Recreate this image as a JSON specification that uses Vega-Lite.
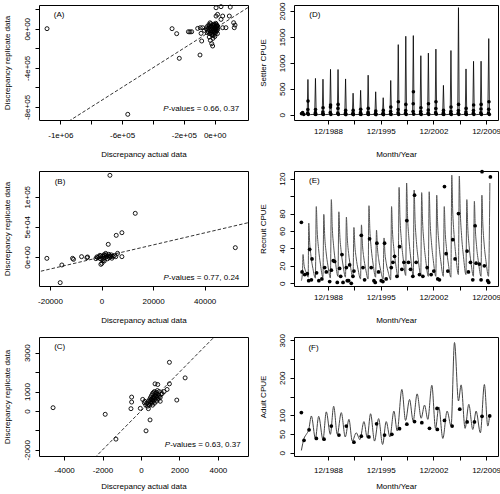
{
"$schema": "https://vega.github.io/schema/vega-lite/v6.json",
"padding": {"left": 2, "top": 1, "right": 0, "bottom": 0},
"config": {
 "view": {"stroke": "black", "strokeWidth": 1},
 "font": "Liberation Sans",
 "axis": {"domain": false, "grid": false, "ticks": true, "tickColor": "black", "tickSize": 4, "tickWidth": 1, "labelFont": "Liberation Sans", "labelFontSize": 8, "labelColor": "black", "titleFont": "Liberation Sans", "titleFontSize": 8, "titleFontWeight": "normal", "titleColor": "black", "labelOverlap": false, "labelFlush": false},
 "axisY": {"labelAngle": -90, "labelAlign": "center", "labelBaseline": "bottom", "labelPadding": 4, "titleBaseline": "middle", "titleAlign": "center", "titleAngle": -90, "labelOverlap": false},
 "axisX": {"titleBaseline": "middle", "titleY": 34, "labelOverlap": false}
},
"datasets": {
 "A": [
  {"x":-1086000,"y":0},{"x":-276000,"y":0},{"x":-246000,"y":-51000},{"x":-229000,"y":-303000},{"x":-170000,"y":-31000},{"x":-160000,"y":-33000},{"x":-149000,"y":-31000},{"x":-95000,"y":-269000},{"x":-110000,"y":3000},{"x":-93000,"y":10000},{"x":-78000,"y":10000},{"x":-67000,"y":-17000},{"x":-88000,"y":-48000},{"x":-84000,"y":-126000},{"x":-35000,"y":-85000},{"x":-28000,"y":-119000},{"x":-19000,"y":-153000},{"x":-13000,"y":-177000},{"x":-11000,"y":-99000},{"x":9000,"y":129000},{"x":41000,"y":95000},{"x":52000,"y":129000},{"x":95000,"y":129000},{"x":19000,"y":146000},{"x":9000,"y":214000},{"x":41000,"y":225000},{"x":101000,"y":221000},{"x":123000,"y":61000},{"x":132000,"y":37000},{"x":127000,"y":10000},{"x":19000,"y":27000},{"x":52000,"y":10000},{"x":73000,"y":10000},{"x":-563000,"y":-875000},
  {"x":-50000,"y":20000},{"x":-45000,"y":-10000},{"x":-40000,"y":5000},{"x":-35000,"y":30000},{"x":-30000,"y":-20000},{"x":-28000,"y":10000},{"x":-25000,"y":-40000},{"x":-22000,"y":25000},{"x":-20000,"y":-5000},{"x":-18000,"y":15000},{"x":-15000,"y":-30000},{"x":-12000,"y":35000},{"x":-10000,"y":0},{"x":-8000,"y":-15000},{"x":-5000,"y":20000},{"x":-3000,"y":-45000},{"x":0,"y":5000},{"x":0,"y":-25000},{"x":2000,"y":40000},{"x":4000,"y":-10000},{"x":6000,"y":15000},{"x":8000,"y":-35000},{"x":10000,"y":0},{"x":12000,"y":25000},{"x":14000,"y":-20000},{"x":16000,"y":10000},{"x":18000,"y":-50000},{"x":-42000,"y":-30000},{"x":-38000,"y":40000},{"x":-32000,"y":-50000},{"x":-14000,"y":-55000},{"x":-6000,"y":45000},{"x":3000,"y":-55000},{"x":11000,"y":45000},{"x":-55000,"y":0},{"x":-48000,"y":-40000},{"x":20000,"y":-5000},{"x":15000,"y":30000},{"x":-2000,"y":8000},{"x":5000,"y":-5000},{"x":-20000,"y":-60000},{"x":-25000,"y":50000},{"x":7000,"y":55000},{"x":-10000,"y":-70000},{"x":1000,"y":-80000},{"x":-30000,"y":60000}
 ],
 "B": [
  {"x":-21220,"y":-2210},{"x":-15400,"y":-13260},{"x":-16050,"y":-42540},{"x":-11260,"y":-2210},{"x":-10870,"y":-3870},{"x":-7760,"y":550},{"x":-5690,"y":-1100},{"x":-5430,"y":0},{"x":-2200,"y":-2760},{"x":-1550,"y":-1100},{"x":-650,"y":2760},{"x":-260,"y":1660},{"x":130,"y":-10500},{"x":-260,"y":-12160},{"x":1035,"y":-6630},{"x":2590,"y":21000},{"x":3240,"y":135400},{"x":5690,"y":35900},{"x":7890,"y":40300},{"x":7890,"y":550},{"x":6210,"y":6080},{"x":13070,"y":72400},{"x":51890,"y":15470},
  {"x":500,"y":1000},{"x":800,"y":-2000},{"x":1200,"y":2500},{"x":1500,"y":-500},{"x":1800,"y":3500},{"x":2000,"y":500},{"x":2300,"y":-3000},{"x":2600,"y":1500},{"x":3000,"y":-1000},{"x":3300,"y":2000},{"x":3600,"y":500},{"x":4000,"y":-2000},{"x":4500,"y":1000},{"x":5000,"y":2500},{"x":5500,"y":500},{"x":1000,"y":4000},{"x":200,"y":-4000},{"x":-500,"y":-3000},{"x":-1000,"y":500},{"x":2800,"y":4500},{"x":600,"y":-6000},{"x":1600,"y":6000},{"x":3800,"y":3500},{"x":-1800,"y":200}
 ],
 "C": [
  {"x":-4574,"y":170},{"x":-1861,"y":-170},{"x":-1304,"y":-1448},{"x":-522,"y":119},{"x":-487,"y":716},{"x":-487,"y":460},{"x":-35,"y":136},{"x":261,"y":-1022},{"x":470,"y":-460},{"x":87,"y":596},{"x":174,"y":426},{"x":1478,"y":2505},{"x":1861,"y":562},{"x":2295,"y":1704},{"x":730,"y":1397},{"x":870,"y":1363},{"x":1478,"y":1397},{"x":1356,"y":1108},{"x":1040,"y":850},{"x":950,"y":1000},{"x":383,"y":119},
  {"x":350,"y":250},{"x":400,"y":350},{"x":450,"y":300},{"x":500,"y":450},{"x":550,"y":400},{"x":600,"y":550},{"x":650,"y":500},{"x":700,"y":650},{"x":750,"y":600},{"x":800,"y":750},{"x":850,"y":700},{"x":900,"y":850},{"x":450,"y":600},{"x":500,"y":700},{"x":550,"y":800},{"x":600,"y":900},{"x":650,"y":950},{"x":700,"y":1000},{"x":750,"y":900},{"x":800,"y":950},{"x":600,"y":300},{"x":700,"y":400},{"x":800,"y":500},{"x":900,"y":600},{"x":1000,"y":700},{"x":550,"y":600},{"x":650,"y":700},{"x":750,"y":800},{"x":400,"y":500},{"x":500,"y":550},{"x":600,"y":650},{"x":700,"y":750},{"x":300,"y":400},{"x":850,"y":1050},{"x":1100,"y":900},{"x":950,"y":750},{"x":200,"y":500},{"x":250,"y":300},{"x":1200,"y":1000},{"x":1000,"y":500}
 ],
 "Dline": [
  {"t":1985.38,"v":5},{"t":1985.5,"v":60},{"t":1985.62,"v":8},
  {"t":1986.15,"v":8},{"t":1986.25,"v":680},{"t":1986.35,"v":30},{"t":1986.6,"v":2},
  {"t":1987.15,"v":8},{"t":1987.25,"v":700},{"t":1987.35,"v":30},{"t":1987.6,"v":2},
  {"t":1988.15,"v":8},{"t":1988.25,"v":685},{"t":1988.35,"v":30},{"t":1988.6,"v":2},
  {"t":1989.15,"v":8},{"t":1989.25,"v":875},{"t":1989.35,"v":30},{"t":1989.6,"v":2},
  {"t":1990.15,"v":8},{"t":1990.25,"v":872},{"t":1990.35,"v":30},{"t":1990.6,"v":2},
  {"t":1991.15,"v":8},{"t":1991.25,"v":690},{"t":1991.35,"v":30},{"t":1991.6,"v":2},
  {"t":1992.15,"v":8},{"t":1992.25,"v":415},{"t":1992.35,"v":30},{"t":1992.6,"v":2},
  {"t":1993.15,"v":8},{"t":1993.25,"v":470},{"t":1993.35,"v":30},{"t":1993.6,"v":2},
  {"t":1994.15,"v":8},{"t":1994.25,"v":762},{"t":1994.35,"v":30},{"t":1994.6,"v":2},
  {"t":1995.15,"v":8},{"t":1995.25,"v":442},{"t":1995.35,"v":30},{"t":1995.6,"v":2},
  {"t":1996.15,"v":8},{"t":1996.25,"v":328},{"t":1996.35,"v":30},{"t":1996.6,"v":2},
  {"t":1997.15,"v":8},{"t":1997.25,"v":660},{"t":1997.35,"v":30},{"t":1997.6,"v":2},
  {"t":1998.15,"v":8},{"t":1998.25,"v":1352},{"t":1998.35,"v":30},{"t":1998.6,"v":2},
  {"t":1999.15,"v":8},{"t":1999.25,"v":1513},{"t":1999.35,"v":30},{"t":1999.6,"v":2},
  {"t":2000.15,"v":8},{"t":2000.25,"v":1526},{"t":2000.35,"v":30},{"t":2000.6,"v":2},
  {"t":2001.15,"v":8},{"t":2001.25,"v":1138},{"t":2001.35,"v":30},{"t":2001.6,"v":2},
  {"t":2002.15,"v":8},{"t":2002.25,"v":1188},{"t":2002.35,"v":30},{"t":2002.6,"v":2},
  {"t":2003.15,"v":8},{"t":2003.25,"v":1265},{"t":2003.35,"v":30},{"t":2003.6,"v":2},
  {"t":2004.15,"v":8},{"t":2004.25,"v":566},{"t":2004.35,"v":30},{"t":2004.6,"v":2},
  {"t":2005.15,"v":8},{"t":2005.25,"v":1238},{"t":2005.35,"v":30},{"t":2005.6,"v":2},
  {"t":2006.15,"v":8},{"t":2006.25,"v":2065},{"t":2006.35,"v":30},{"t":2006.6,"v":2},
  {"t":2007.15,"v":8},{"t":2007.25,"v":883},{"t":2007.35,"v":30},{"t":2007.6,"v":2},
  {"t":2008.15,"v":8},{"t":2008.25,"v":1030},{"t":2008.35,"v":30},{"t":2008.6,"v":2},
  {"t":2009.15,"v":8},{"t":2009.25,"v":1032},{"t":2009.35,"v":30},{"t":2009.6,"v":2},
  {"t":2010.15,"v":8},{"t":2010.27,"v":1468},{"t":2010.37,"v":30},{"t":2010.45,"v":5}
 ],
 "Ddots": [
  {"t":1985.4,"v":20},{"t":1985.55,"v":40},{"t":1985.7,"v":5},
  {"t":1986.22,"v":30},{"t":1986.24,"v":100},{"t":1986.26,"v":263},{"t":1986.3,"v":5},
  {"t":1987.22,"v":10},{"t":1987.24,"v":40},{"t":1987.26,"v":100},{"t":1987.3,"v":3},
  {"t":1988.22,"v":15},{"t":1988.24,"v":50},{"t":1988.26,"v":135},{"t":1988.3,"v":3},
  {"t":1989.22,"v":40},{"t":1989.24,"v":147},{"t":1989.26,"v":186},{"t":1989.3,"v":5},
  {"t":1990.22,"v":30},{"t":1990.24,"v":122},{"t":1990.26,"v":199},{"t":1990.3,"v":5},
  {"t":1991.22,"v":10},{"t":1991.24,"v":35},{"t":1991.26,"v":83},{"t":1991.3,"v":2},
  {"t":1992.22,"v":8},{"t":1992.24,"v":30},{"t":1992.26,"v":83},{"t":1992.3,"v":2},
  {"t":1993.22,"v":10},{"t":1993.24,"v":40},{"t":1993.26,"v":103},{"t":1993.3,"v":3},
  {"t":1994.22,"v":12},{"t":1994.24,"v":45},{"t":1994.26,"v":122},{"t":1994.3,"v":3},
  {"t":1995.22,"v":8},{"t":1995.24,"v":25},{"t":1995.26,"v":70},{"t":1995.3,"v":2},
  {"t":1996.22,"v":10},{"t":1996.24,"v":30},{"t":1996.26,"v":83},{"t":1996.3,"v":2},
  {"t":1997.22,"v":15},{"t":1997.24,"v":60},{"t":1997.26,"v":147},{"t":1997.3,"v":4},
  {"t":1998.22,"v":35},{"t":1998.24,"v":100},{"t":1998.26,"v":250},{"t":1998.3,"v":5},
  {"t":1999.22,"v":30},{"t":1999.24,"v":80},{"t":1999.26,"v":199},{"t":1999.3,"v":5},
  {"t":2000.22,"v":60},{"t":2000.24,"v":212},{"t":2000.26,"v":442},{"t":2000.3,"v":10},
  {"t":2001.22,"v":20},{"t":2001.24,"v":60},{"t":2001.26,"v":135},{"t":2001.3,"v":5},
  {"t":2002.22,"v":30},{"t":2002.24,"v":90},{"t":2002.26,"v":212},{"t":2002.3,"v":5},
  {"t":2003.22,"v":40},{"t":2003.24,"v":120},{"t":2003.26,"v":250},{"t":2003.3,"v":8},
  {"t":2004.22,"v":10},{"t":2004.24,"v":35},{"t":2004.26,"v":83},{"t":2004.3,"v":3},
  {"t":2005.22,"v":20},{"t":2005.24,"v":60},{"t":2005.26,"v":147},{"t":2005.3,"v":5},
  {"t":2006.22,"v":30},{"t":2006.24,"v":80},{"t":2006.26,"v":199},{"t":2006.3,"v":5},
  {"t":2007.22,"v":15},{"t":2007.24,"v":50},{"t":2007.26,"v":122},{"t":2007.3,"v":4},
  {"t":2008.22,"v":25},{"t":2008.24,"v":80},{"t":2008.26,"v":186},{"t":2008.3,"v":5},
  {"t":2009.22,"v":35},{"t":2009.24,"v":110},{"t":2009.26,"v":199},{"t":2009.3,"v":5},
  {"t":2010.24,"v":30},{"t":2010.27,"v":103},{"t":2010.3,"v":250},{"t":2010.35,"v":5}
 ],
 "Eline": [
  {"t":1985.38,"v":3},{"t":1985.52,"v":12},{"t":1985.6,"v":33},{"t":1985.72,"v":22},{"t":1985.9,"v":15},{"t":1986.1,"v":11},{"t":1986.28,"v":7},
  {"t":1986.36,"v":69},{"t":1986.48,"v":47},{"t":1986.66,"v":31},{"t":1986.91,"v":17},{"t":1987.24,"v":6},
  {"t":1987.36,"v":88},{"t":1987.48,"v":60},{"t":1987.66,"v":40},{"t":1987.91,"v":22},{"t":1988.24,"v":7},
  {"t":1988.36,"v":79},{"t":1988.48,"v":54},{"t":1988.66,"v":36},{"t":1988.91,"v":20},{"t":1989.24,"v":6},
  {"t":1989.36,"v":96},{"t":1989.48,"v":65},{"t":1989.66,"v":43},{"t":1989.91,"v":24},{"t":1990.24,"v":8},
  {"t":1990.36,"v":82},{"t":1990.48,"v":56},{"t":1990.66,"v":37},{"t":1990.91,"v":21},{"t":1991.24,"v":7},
  {"t":1991.36,"v":76},{"t":1991.48,"v":52},{"t":1991.66,"v":34},{"t":1991.91,"v":19},{"t":1992.24,"v":6},
  {"t":1992.36,"v":64},{"t":1992.48,"v":44},{"t":1992.66,"v":29},{"t":1992.91,"v":16},{"t":1993.24,"v":5},
  {"t":1993.36,"v":67},{"t":1993.48,"v":46},{"t":1993.66,"v":30},{"t":1993.91,"v":17},{"t":1994.24,"v":5},
  {"t":1994.36,"v":89},{"t":1994.48,"v":61},{"t":1994.66,"v":40},{"t":1994.91,"v":22},{"t":1995.24,"v":7},
  {"t":1995.36,"v":61},{"t":1995.48,"v":41},{"t":1995.66,"v":27},{"t":1995.91,"v":15},{"t":1996.24,"v":5},
  {"t":1996.36,"v":52},{"t":1996.48,"v":35},{"t":1996.66,"v":23},{"t":1996.91,"v":13},{"t":1997.24,"v":4},
  {"t":1997.36,"v":88},{"t":1997.48,"v":60},{"t":1997.66,"v":40},{"t":1997.91,"v":22},{"t":1998.24,"v":7},
  {"t":1998.36,"v":110},{"t":1998.48,"v":75},{"t":1998.66,"v":50},{"t":1998.91,"v":28},{"t":1999.24,"v":9},
  {"t":1999.36,"v":115},{"t":1999.48,"v":78},{"t":1999.66,"v":52},{"t":1999.91,"v":29},{"t":2000.24,"v":9},
  {"t":2000.36,"v":107},{"t":2000.48,"v":73},{"t":2000.66,"v":48},{"t":2000.91,"v":27},{"t":2001.24,"v":9},
  {"t":2001.36,"v":104},{"t":2001.48,"v":71},{"t":2001.66,"v":47},{"t":2001.91,"v":26},{"t":2002.24,"v":8},
  {"t":2002.36,"v":105},{"t":2002.48,"v":71},{"t":2002.66,"v":47},{"t":2002.91,"v":26},{"t":2003.24,"v":8},
  {"t":2003.36,"v":101},{"t":2003.48,"v":69},{"t":2003.66,"v":45},{"t":2003.91,"v":25},{"t":2004.24,"v":8},
  {"t":2004.36,"v":88},{"t":2004.48,"v":60},{"t":2004.66,"v":40},{"t":2004.91,"v":22},{"t":2005.24,"v":7},
  {"t":2005.36,"v":124},{"t":2005.48,"v":84},{"t":2005.66,"v":56},{"t":2005.91,"v":31},{"t":2006.24,"v":10},
  {"t":2006.36,"v":123},{"t":2006.48,"v":84},{"t":2006.66,"v":55},{"t":2006.91,"v":31},{"t":2007.24,"v":10},
  {"t":2007.36,"v":96},{"t":2007.48,"v":65},{"t":2007.66,"v":43},{"t":2007.91,"v":24},{"t":2008.24,"v":8},
  {"t":2008.36,"v":94},{"t":2008.48,"v":64},{"t":2008.66,"v":42},{"t":2008.91,"v":24},{"t":2009.24,"v":8},
  {"t":2009.36,"v":101},{"t":2009.48,"v":69},{"t":2009.66,"v":45},{"t":2009.91,"v":25},{"t":2010.24,"v":8},
  {"t":2010.42,"v":115}
 ],
 "Edots": [
  {"t":1985.38,"v":70},{"t":1985.47,"v":13},{"t":1985.82,"v":10},{"t":1986.17,"v":11},{"t":1986.35,"v":3},{"t":1986.48,"v":39},{"t":1986.71,"v":4},{"t":1986.79,"v":28},{"t":1987.4,"v":12},{"t":1987.7,"v":3},{"t":1988.1,"v":5},{"t":1988.47,"v":18},{"t":1988.69,"v":13},{"t":1989.14,"v":2},{"t":1989.36,"v":15},{"t":1989.62,"v":26},{"t":1989.8,"v":25},{"t":1990.15,"v":1},{"t":1990.46,"v":17},{"t":1990.6,"v":8},{"t":1990.77,"v":33},{"t":1990.91,"v":1},{"t":1991.35,"v":18},{"t":1991.48,"v":3},{"t":1991.66,"v":3},{"t":1991.79,"v":21},{"t":1992.01,"v":0},{"t":1992.23,"v":8},{"t":1992.36,"v":14},{"t":1993.34,"v":55},{"t":1993.56,"v":18},{"t":1993.78,"v":4},{"t":1994.44,"v":51},{"t":1994.66,"v":18},{"t":1995.02,"v":3},{"t":1995.19,"v":1},{"t":1995.41,"v":46},{"t":1995.63,"v":13},{"t":1995.99,"v":3},{"t":1996.21,"v":2},{"t":1996.43,"v":46},{"t":1996.65,"v":5},{"t":1997.32,"v":18},{"t":1997.54,"v":24},{"t":1997.76,"v":31},{"t":1998.07,"v":8},{"t":1998.42,"v":42},{"t":1998.73,"v":16},{"t":1999.0,"v":24},{"t":1999.39,"v":72},{"t":1999.61,"v":24},{"t":1999.88,"v":16},{"t":2000.19,"v":8},{"t":2000.41,"v":101},{"t":2000.63,"v":24},{"t":2001.07,"v":10},{"t":2001.52,"v":8},{"t":2002.09,"v":18},{"t":2002.62,"v":10},{"t":2002.97,"v":14},{"t":2003.5,"v":5},{"t":2003.72,"v":4},{"t":2004.39,"v":111},{"t":2004.61,"v":34},{"t":2004.83,"v":14},{"t":2005.49,"v":50},{"t":2005.8,"v":28},{"t":2006.25,"v":80},{"t":2007.39,"v":37},{"t":2007.57,"v":13},{"t":2007.84,"v":24},{"t":2008.15,"v":4},{"t":2008.46,"v":66},{"t":2008.59,"v":23},{"t":2009.03,"v":22},{"t":2009.25,"v":4},{"t":2009.38,"v":128},{"t":2009.69,"v":20},{"t":2010.13,"v":3},{"t":2010.27,"v":1},{"t":2010.49,"v":122}
 ],
 "Fline": [
  {"t":1985.38,"v":6},{"t":1985.73,"v":38},{"t":1986.04,"v":49},{"t":1986.35,"v":61},{"t":1986.71,"v":98},{"t":1987.24,"v":38},{"t":1987.68,"v":97},{"t":1988.25,"v":35},{"t":1988.69,"v":109},{"t":1989.23,"v":49},{"t":1989.67,"v":124},{"t":1990.15,"v":49},{"t":1990.68,"v":107},{"t":1991.21,"v":42},{"t":1991.7,"v":89},{"t":1992.14,"v":31},{"t":1992.67,"v":53},{"t":1993.16,"v":35},{"t":1993.69,"v":83},{"t":1994.13,"v":40},{"t":1994.57,"v":104},{"t":1995.1,"v":31},{"t":1995.64,"v":91},{"t":1996.17,"v":22},{"t":1996.65,"v":83},{"t":1997.14,"v":42},{"t":1997.67,"v":111},{"t":1998.11,"v":58},{"t":1998.73,"v":169},{"t":1999.22,"v":86},{"t":1999.75,"v":142},{"t":2000.23,"v":85},{"t":2000.76,"v":157},{"t":2001.29,"v":92},{"t":2001.74,"v":127},{"t":2002.18,"v":89},{"t":2002.71,"v":180},{"t":2003.2,"v":65},{"t":2003.64,"v":122},{"t":2004.17,"v":38},{"t":2004.74,"v":111},{"t":2005.27,"v":71},{"t":2005.72,"v":294},{"t":2006.25,"v":138},{"t":2006.6,"v":181},{"t":2007.13,"v":65},{"t":2007.62,"v":129},{"t":2008.15,"v":62},{"t":2008.59,"v":111},{"t":2009.16,"v":53},{"t":2009.69,"v":182},{"t":2010.14,"v":71},{"t":2010.4,"v":102}
 ],
 "Fdots": [
  {"t":1985.38,"v":107},{"t":1985.73,"v":33},{"t":1986.4,"v":61},{"t":1987.37,"v":38},{"t":1988.39,"v":36},{"t":1989.36,"v":71},{"t":1990.37,"v":47},{"t":1991.35,"v":71},{"t":1992.36,"v":28},{"t":1993.34,"v":44},{"t":1994.35,"v":42},{"t":1995.37,"v":77},{"t":1996.43,"v":47},{"t":1997.4,"v":49},{"t":1998.42,"v":64},{"t":1999.39,"v":76},{"t":2000.41,"v":83},{"t":2001.38,"v":80},{"t":2002.4,"v":65},{"t":2003.4,"v":118},{"t":2003.44,"v":62},{"t":2004.39,"v":86},{"t":2005.41,"v":71},{"t":2006.42,"v":116},{"t":2007.4,"v":82},{"t":2008.37,"v":82},{"t":2009.38,"v":97},{"t":2010.4,"v":98}
 ]
},
"columns": 2,
"spacing": {"row": 51, "column": 46},
"bounds": "flush",
"concat": [
  {"width": 209, "height": 115,
   "resolve": {"axis": {"x": "independent", "y": "independent"}},
   "layer": [
    {"data": {"name": "A"},
     "mark": {"type": "point", "shape": "circle", "filled": false, "color": "black", "size": 16, "strokeWidth": 0.9, "opacity": 1},
     "encoding": {
      "x": {"field": "x", "type": "quantitative", "scale": {"domain": [-1138000, 216000], "nice": false, "zero": false},
            "axis": {"title": "Discrepancy actual data", "values": [-1000000, -800000, -600000, -400000, -200000, 0], "labelPadding": 7, "labelOverlap": false,
                     "labelExpr": "datum.value == -1000000 ? '-1e+06' : datum.value == -600000 ? '-6e+05' : datum.value == -200000 ? '-2e+05' : datum.value == 0 ? '0e+00' : ''"}},
      "y": {"field": "y", "type": "quantitative", "scale": {"domain": [-933000, 242000], "nice": false, "zero": false},
            "axis": {"title": "Discrepancy replicate data", "titleX": -31.7, "values": [200000, 0, -200000, -400000, -600000, -800000], "labelOverlap": false,
                     "labelExpr": "datum.value == 0 ? '0e+00' : datum.value == -400000 ? '-4e+05' : datum.value == -800000 ? '-8e+05' : ''"}}
     }},
    {"data": {"values": [{}]},
     "mark": {"type": "rule", "strokeDash": [3.5, 2], "strokeWidth": 0.8, "color": "black", "clip": true},
     "encoding": {
      "x": {"datum": -2000000, "type": "quantitative", "axis": null},
      "y": {"datum": -2000000, "type": "quantitative", "axis": null},
      "x2": {"datum": 2000000}, "y2": {"datum": 2000000}
     }},
    {"data": {"values": [{}]},
     "mark": {"type": "text", "text": "(A)", "font": "Liberation Sans", "fontSize": 8, "fill": "black", "align": "center", "baseline": "middle"},
     "encoding": {"x": {"datum": -1008000, "type": "quantitative", "axis": null}, "y": {"datum": 137000, "type": "quantitative", "axis": null}}},
    {"data": {"values": [{}]},
     "mark": {"type": "text", "text": "P", "font": "Liberation Sans", "fontSize": 8, "fontStyle": "italic", "fill": "black", "align": "right", "baseline": "middle", "dx": -70.5},
     "encoding": {"x": {"datum": 159000, "type": "quantitative", "axis": null}, "y": {"datum": -824000, "type": "quantitative", "axis": null}}},
    {"data": {"values": [{}]},
     "mark": {"type": "text", "text": "-values = 0.66, 0.37", "font": "Liberation Sans", "fontSize": 8, "fill": "black", "align": "right", "baseline": "middle"},
     "encoding": {"x": {"datum": 159000, "type": "quantitative", "axis": null}, "y": {"datum": -824000, "type": "quantitative", "axis": null}}}
   ]},
  {"width": 204, "height": 115,
   "resolve": {"axis": {"x": "independent", "y": "independent"}},
   "layer": [
    {"data": {"name": "Dline"},
     "mark": {"type": "line", "color": "black", "strokeWidth": 0.8},
     "encoding": {
      "x": {"field": "t", "type": "quantitative", "scale": {"domain": [1984.4, 2011.5], "nice": false, "zero": false},
            "axis": {"title": "Month/Year", "values": [1988.92, 1992.42, 1995.92, 1999.42, 2002.92, 2006.42, 2009.92], "labelPadding": 3, "labelOverlap": false,
                     "labelExpr": "abs(datum.value - floor(datum.value) - 0.92) < 0.01 ? '12/' + floor(datum.value) : ''"}},
      "y": {"field": "v", "type": "quantitative", "scale": {"domain": [-102, 2116], "nice": false, "zero": false},
            "axis": {"title": "Settler CPUE", "titleX": -31, "values": [0, 500, 1000, 1500, 2000], "labelOverlap": false, "labelExpr": "datum.value + ''"}}
     }},
    {"data": {"name": "Ddots"},
     "mark": {"type": "circle", "color": "black", "size": 13, "opacity": 1},
     "encoding": {"x": {"field": "t", "type": "quantitative", "axis": null}, "y": {"field": "v", "type": "quantitative", "axis": null}}},
    {"data": {"values": [{}]},
     "mark": {"type": "text", "text": "(D)", "font": "Liberation Sans", "fontSize": 8, "fill": "black", "align": "center", "baseline": "middle"},
     "encoding": {"x": {"datum": 1987.16, "type": "quantitative", "axis": null}, "y": {"datum": 1917, "type": "quantitative", "axis": null}}}
   ]},
  {"width": 209, "height": 115,
   "resolve": {"axis": {"x": "independent", "y": "independent"}},
   "layer": [
    {"data": {"name": "B"},
     "mark": {"type": "point", "shape": "circle", "filled": false, "color": "black", "size": 16, "strokeWidth": 0.9, "opacity": 1},
     "encoding": {
      "x": {"field": "x", "type": "quantitative", "scale": {"domain": [-24270, 56810], "nice": false, "zero": false},
            "axis": {"title": "Discrepancy actual data", "values": [-20000, 0, 20000, 40000], "labelPadding": 7, "labelOverlap": false, "labelExpr": "datum.value + ''"}},
      "y": {"field": "y", "type": "quantitative", "scale": {"domain": [-48090, 142600], "nice": false, "zero": false},
            "axis": {"title": "Discrepancy replicate data", "titleX": -31.7, "values": [0, 50000, 100000], "labelOverlap": false,
                     "labelExpr": "datum.value == 0 ? '0e+00' : datum.value == 50000 ? '5e+04' : '1e+05'"}}
     }},
    {"data": {"values": [{}]},
     "mark": {"type": "rule", "strokeDash": [3.5, 2], "strokeWidth": 0.8, "color": "black", "clip": true},
     "encoding": {
      "x": {"datum": -1000000, "type": "quantitative", "axis": null},
      "y": {"datum": -1000000, "type": "quantitative", "axis": null},
      "x2": {"datum": 1000000}, "y2": {"datum": 1000000}
     }},
    {"data": {"values": [{}]},
     "mark": {"type": "text", "text": "(B)", "font": "Liberation Sans", "fontSize": 8, "fill": "black", "align": "center", "baseline": "middle"},
     "encoding": {"x": {"datum": -16110, "type": "quantitative", "axis": null}, "y": {"datum": 124900, "type": "quantitative", "axis": null}}},
    {"data": {"values": [{}]},
     "mark": {"type": "text", "text": "P", "font": "Liberation Sans", "fontSize": 8, "fontStyle": "italic", "fill": "black", "align": "right", "baseline": "middle", "dx": -70.5},
     "encoding": {"x": {"datum": 53430, "type": "quantitative", "axis": null}, "y": {"datum": -35300, "type": "quantitative", "axis": null}}},
    {"data": {"values": [{}]},
     "mark": {"type": "text", "text": "-values = 0.77, 0.24", "font": "Liberation Sans", "fontSize": 8, "fill": "black", "align": "right", "baseline": "middle"},
     "encoding": {"x": {"datum": 53430, "type": "quantitative", "axis": null}, "y": {"datum": -35300, "type": "quantitative", "axis": null}}}
   ]},
  {"width": 204, "height": 115,
   "resolve": {"axis": {"x": "independent", "y": "independent"}},
   "layer": [
    {"data": {"name": "Eline"},
     "mark": {"type": "line", "color": "#555555", "strokeWidth": 1, "interpolate": "monotone"},
     "encoding": {
      "x": {"field": "t", "type": "quantitative", "scale": {"domain": [1984.4, 2011.5], "nice": false, "zero": false},
            "axis": {"title": "Month/Year", "values": [1988.92, 1992.42, 1995.92, 1999.42, 2002.92, 2006.42, 2009.92], "labelPadding": 3, "labelOverlap": false,
                     "labelExpr": "abs(datum.value - floor(datum.value) - 0.92) < 0.01 ? '12/' + floor(datum.value) : ''"}},
      "y": {"field": "v", "type": "quantitative", "scale": {"domain": [-3.1, 128.8], "nice": false, "zero": false},
            "axis": {"title": "Recruit CPUE", "titleX": -31, "values": [0, 20, 40, 60, 80, 100, 120], "labelOverlap": false, "labelExpr": "datum.value == 100 ? '' : datum.value + ''"}}
     }},
    {"data": {"name": "Edots"},
     "mark": {"type": "circle", "color": "black", "size": 14, "opacity": 1},
     "encoding": {"x": {"field": "t", "type": "quantitative", "axis": null}, "y": {"field": "v", "type": "quantitative", "axis": null}}},
    {"data": {"values": [{}]},
     "mark": {"type": "text", "text": "(E)", "font": "Liberation Sans", "fontSize": 8, "fill": "black", "align": "center", "baseline": "middle"},
     "encoding": {"x": {"datum": 1987.1, "type": "quantitative", "axis": null}, "y": {"datum": 117.4, "type": "quantitative", "axis": null}}}
   ]},
  {"width": 209, "height": 119,
   "resolve": {"axis": {"x": "independent", "y": "independent"}},
   "layer": [
    {"data": {"name": "C"},
     "mark": {"type": "point", "shape": "circle", "filled": false, "color": "black", "size": 16, "strokeWidth": 0.9, "opacity": 1},
     "encoding": {
      "x": {"field": "x", "type": "quantitative", "scale": {"domain": [-5305, 5565], "nice": false, "zero": false},
            "axis": {"title": "Discrepancy actual data", "values": [-4000, -2000, 0, 2000, 4000], "labelPadding": 6, "titleY": 30, "labelOverlap": false, "labelExpr": "datum.value + ''"}},
      "y": {"field": "y", "type": "quantitative", "scale": {"domain": [-2316, 3808], "nice": false, "zero": false},
            "axis": {"title": "Discrepancy replicate data", "titleX": -31.7, "values": [-2000, -1000, 0, 1000, 2000, 3000], "labelOverlap": false,
                     "labelExpr": "datum.value == 2000 || datum.value == -1000 ? '' : datum.value + ''"}}
     }},
    {"data": {"values": [{}]},
     "mark": {"type": "rule", "strokeDash": [3.5, 2], "strokeWidth": 0.8, "color": "black", "clip": true},
     "encoding": {
      "x": {"datum": -100000, "type": "quantitative", "axis": null},
      "y": {"datum": -100000, "type": "quantitative", "axis": null},
      "x2": {"datum": 100000}, "y2": {"datum": 100000}
     }},
    {"data": {"values": [{}]},
     "mark": {"type": "text", "text": "(C)", "font": "Liberation Sans", "fontSize": 8, "fill": "black", "align": "center", "baseline": "middle"},
     "encoding": {"x": {"datum": -4228, "type": "quantitative", "axis": null}, "y": {"datum": 3294, "type": "quantitative", "axis": null}}},
    {"data": {"values": [{}]},
     "mark": {"type": "text", "text": "P", "font": "Liberation Sans", "fontSize": 8, "fontStyle": "italic", "fill": "black", "align": "right", "baseline": "middle", "dx": -70.5},
     "encoding": {"x": {"datum": 5183, "type": "quantitative", "axis": null}, "y": {"datum": -1750, "type": "quantitative", "axis": null}}},
    {"data": {"values": [{}]},
     "mark": {"type": "text", "text": "-values = 0.63, 0.37", "font": "Liberation Sans", "fontSize": 8, "fill": "black", "align": "right", "baseline": "middle"},
     "encoding": {"x": {"datum": 5183, "type": "quantitative", "axis": null}, "y": {"datum": -1750, "type": "quantitative", "axis": null}}}
   ]},
  {"width": 204, "height": 119,
   "resolve": {"axis": {"x": "independent", "y": "independent"}},
   "layer": [
    {"data": {"name": "Fline"},
     "mark": {"type": "line", "color": "#444444", "strokeWidth": 1, "interpolate": "monotone"},
     "encoding": {
      "x": {"field": "t", "type": "quantitative", "scale": {"domain": [1984.4, 2011.5], "nice": false, "zero": false},
            "axis": {"title": "Month/Year", "values": [1988.92, 1992.42, 1995.92, 1999.42, 2002.92, 2006.42, 2009.92], "labelPadding": 6, "titleY": 30, "labelOverlap": false,
                     "labelExpr": "abs(datum.value - floor(datum.value) - 0.92) < 0.01 ? '12/' + floor(datum.value) : ''"}},
      "y": {"field": "v", "type": "quantitative", "scale": {"domain": [-8.8, 308.8], "nice": false, "zero": false},
            "axis": {"title": "Adult CPUE", "titleX": -31, "values": [0, 50, 100, 150, 200, 250, 300], "labelOverlap": false, "labelExpr": "datum.value == 150 || datum.value == 250 ? '' : datum.value + ''"}}
     }},
    {"data": {"name": "Fdots"},
     "mark": {"type": "circle", "color": "black", "size": 14, "opacity": 1},
     "encoding": {"x": {"field": "t", "type": "quantitative", "axis": null}, "y": {"field": "v", "type": "quantitative", "axis": null}}},
    {"data": {"values": [{}]},
     "mark": {"type": "text", "text": "(F)", "font": "Liberation Sans", "fontSize": 8, "fill": "black", "align": "center", "baseline": "middle"},
     "encoding": {"x": {"datum": 1986.99, "type": "quantitative", "axis": null}, "y": {"datum": 278.6, "type": "quantitative", "axis": null}}}
   ]}
]
}
